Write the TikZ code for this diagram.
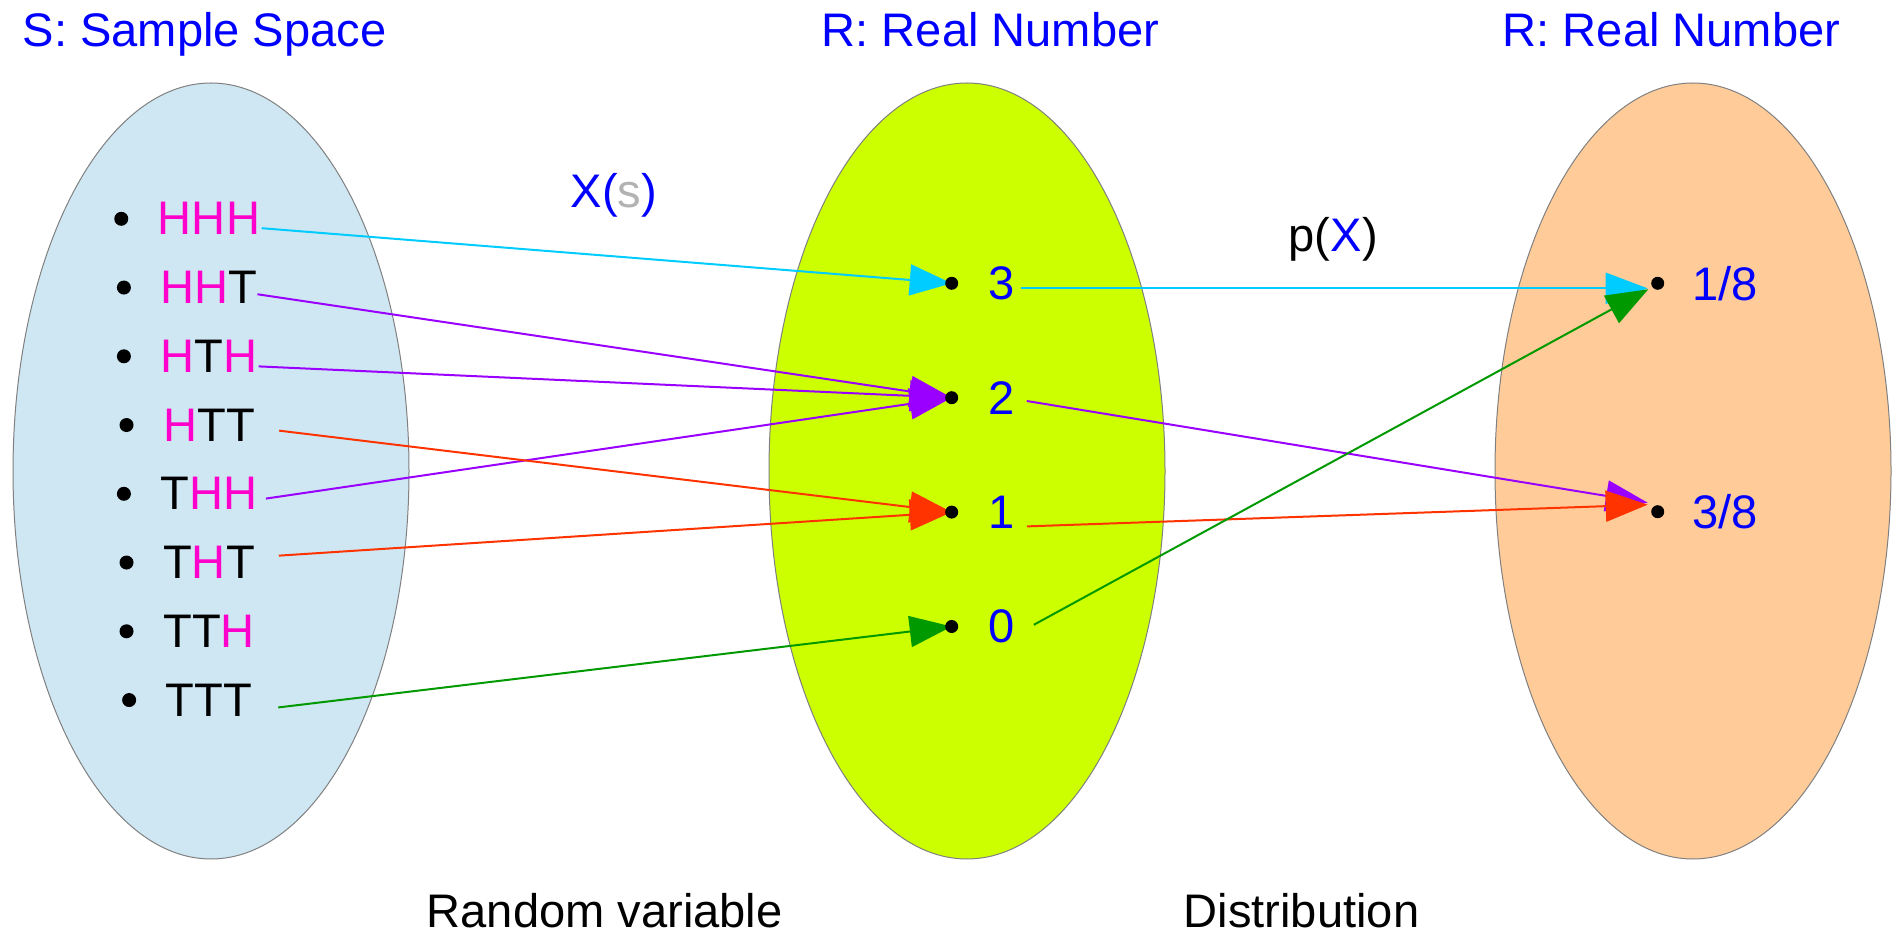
\documentclass[tikz,border=0pt]{standalone}
\usepackage{fontspec}
\setmainfont{Liberation Sans}
\usepackage{xcolor}
\usepackage{tikz}
\usetikzlibrary{arrows.meta, positioning}
\definecolor{setblue}{RGB}{207, 231, 243}
\definecolor{setlime}{RGB}{204, 255, 0}
\definecolor{setpeach}{RGB}{255, 204, 153}
\definecolor{headpink}{RGB}{255, 0, 204}
\definecolor{valblue}{RGB}{0, 0, 255}
\definecolor{argrey}{RGB}{178, 178, 178}
\definecolor{mapcyan}{RGB}{0, 204, 255}
\definecolor{mapviolet}{RGB}{153, 0, 255}
\definecolor{mapred}{RGB}{255, 51, 0}
\definecolor{mapgreen}{RGB}{0, 153, 0}
\newcommand{\hd}{\textcolor{headpink}{H}}

\begin{document}
\begin{tikzpicture}[x=0.1mm, y=-0.1mm, font=\fontsize{13.4}{16}\selectfont,
   ttl/.style={anchor=base west, inner sep=0pt, text=valblue},
   txt/.style={anchor=base west, inner sep=0pt},
   item/.style={inner sep=0pt},
   val/.style={inner sep=0pt, text=valblue},
   ell/.style={draw=gray, line width=0.1mm},
   map/.style={-{Triangle[length=4.2mm, width=3.1mm]}, line width=0.2mm}]
  \useasboundingbox (0,0) rectangle (1897,932);
  % the three sets
  \draw[ell, fill=setblue] (211,471) ellipse [x radius=198, y radius=388];
  \draw[ell, fill=setlime] (967,471) ellipse [x radius=198, y radius=388];
  \draw[ell, fill=setpeach] (1693,471) ellipse [x radius=198, y radius=388];
  \node[ttl] (ts) at (22,47) {S: Sample Space};
  \node[ttl] (tr1) at (821,47) {R: Real Number};
  \node[ttl] (tr2) at (1502,47) {R: Real Number};
  \node[txt] (xs) at (570,208) {\textcolor{valblue}{X(\textcolor{argrey}{s})}};
  \node[txt] (px) at (1288,252) {p(\textcolor{valblue}{X})};
  \node[txt] (rv) at (426,927) {Random variable};
  \node[txt] (dist) at (1183,927) {Distribution};
  % outcomes
  \foreach \nm/\lbl [count=\i from 0] in {hhh/\hd\hd\hd, hht/\hd\hd T, hth/\hd T\hd, htt/\hd TT, thh/T\hd\hd, tht/T\hd T, tth/TT\hd, ttt/TTT} {
    \node[item] (\nm) at (209,218.8+68.75*\i) {\lbl};
    \fill ([xshift=-3.6mm]\nm.west) circle (7);
  }
  % values
  \foreach \nm/\v [count=\i from 0] in {d3/3, d2/2, d1/1, d0/0} {
    \coordinate (\nm) at (951.7,283.3+114.4*\i);
    \node[val, right=3.6mm of \nm] (l\v) {\v};
  }
  \coordinate (r1) at (1657.7,283.3); \coordinate (r3) at (1657.7,511.7);
  \node[val, right=3.4mm of r1] (lr1) {1/8};
  \node[val, right=3.4mm of r3] (lr3) {3/8};
  % X(s)
  \draw[map, mapcyan] ([shift={(1,9.4)}]hhh.east) -- (d3);
  \draw[map, mapviolet] ([shift={(-0.7,6.7)}]hht.east) -- (d2);
  \draw[map, mapviolet] ([shift={(0.6,10.1)}]hth.east) -- (d2);
  \draw[map, mapviolet] ([shift={(7.8,4.8)}]thh.east) -- (d2);
  \draw[map, mapred] ([shift={(23.7,5.6)}]htt.east) -- (d1);
  \draw[map, mapred] ([shift={(23.3,-6.9)}]tht.east) -- (d1);
  \draw[map, mapgreen] ([shift={(25.4,7.4)}]ttt.east) -- (d0);
  % p(X)
  \draw[map, mapcyan] ([shift={(5.8,5)}]l3.east) -- ([shift={(-10,5)}]r1);
  \draw[map, mapviolet] ([shift={(11.5,3.3)}]l2.east) -- ([shift={(-10,-9)}]r3);
  \draw[map, mapred] ([shift={(11.5,14.3)}]l1.east) -- ([shift={(-10,-7)}]r3);
  \draw[map, mapgreen] ([shift={(18.5,-1.7)}]l0.east) -- ([shift={(-9.4,6)}]r1);
  \foreach \p in {d3, d2, d1, d0, r1, r3} \fill (\p) circle (6.5);
\end{tikzpicture}
\end{document}
